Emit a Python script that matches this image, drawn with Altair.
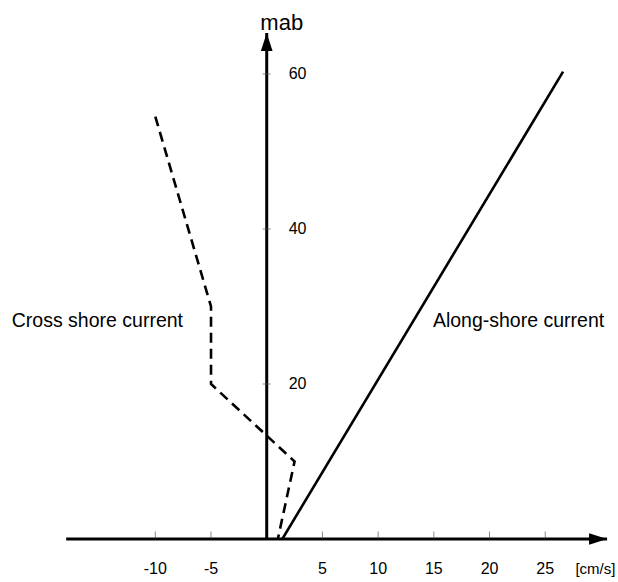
import altair as alt
import pandas as pd

# ---- data ----
cross_u = [-10, -5, -5, 2.5, 1]
cross_z = [54.5, 30, 20, 10, 0]
along_u = [1.4, 26.6]
along_z = [0, 60.3]
x_ticks = [-10, -5, 5, 10, 15, 20, 25]
y_ticks = [20, 40, 60]
x_unit = "[cm/s]"
y_unit = "mab"
curve_labels = ["Cross shore current", "Along-shore current"]
curve_label_u = [-15.2, 22.6]
curve_label_z = [28.1, 28.1]
x_axis_span = [-18.0, 30.55]
y_axis_span = [0.0, 65.3]
x_domain = [-23.94, 31.53]
y_domain = [-5.55, 69.55]

FONT = "Liberation Sans"

xs = alt.Scale(domain=x_domain, nice=False, zero=False)
ys = alt.Scale(domain=y_domain, nice=False, zero=False)
X = lambda f: alt.X(f, type="quantitative", scale=xs, axis=None)
Y = lambda f: alt.Y(f, type="quantitative", scale=ys, axis=None)

cross_df = pd.DataFrame({"u": cross_u, "z": cross_z, "o": range(len(cross_u))})
along_df = pd.DataFrame({"u": along_u, "z": along_z, "o": range(len(along_u))})

cross = alt.Chart(cross_df).mark_line(color="black", strokeWidth=2.6, strokeDash=[10, 6]).encode(
    x=X("u"), y=Y("z"), order="o:O")
along = alt.Chart(along_df).mark_line(color="black", strokeWidth=2.6).encode(
    x=X("u"), y=Y("z"), order="o:O")

xaxis_df = pd.DataFrame({"a": [x_axis_span[0]], "b": [x_axis_span[1]], "z": [0]})
xaxis = alt.Chart(xaxis_df).mark_rule(color="black", strokeWidth=3).encode(
    x=X("a"), x2="b", y=Y("z"))
yaxis_df = pd.DataFrame({"a": [y_axis_span[0]], "b": [y_axis_span[1]], "u": [0]})
yaxis = alt.Chart(yaxis_df).mark_rule(color="black", strokeWidth=3).encode(
    y=Y("a"), y2="b", x=X("u"))

xarrow = alt.Chart(pd.DataFrame({"u": [x_axis_span[1]], "z": [0]})).mark_point(
    shape="M0,0L-2,-0.65L-2,0.65Z", filled=True, color="black", opacity=1, size=324, strokeWidth=0
).encode(x=X("u"), y=Y("z"))
yarrow = alt.Chart(pd.DataFrame({"u": [0], "z": [y_axis_span[1]]})).mark_point(
    shape="M0,0L-0.65,2L0.65,2Z", filled=True, color="black", opacity=1, size=324, strokeWidth=0
).encode(x=X("u"), y=Y("z"))

xt_df = pd.DataFrame({"u": x_ticks, "z": [0] * len(x_ticks), "t": [str(v) for v in x_ticks]})
xtick = alt.Chart(xt_df).mark_tick(orient="vertical", size=7, yOffset=-4, thickness=1, color="#555").encode(
    x=X("u"), y=Y("z"))
xlab = alt.Chart(xt_df).mark_text(font=FONT, fontSize=16, dy=30, align="center", baseline="middle", color="black").encode(
    x=X("u"), y=Y("z"), text="t:N")

yt_df = pd.DataFrame({"z": y_ticks, "u": [0] * len(y_ticks), "t": [str(v) for v in y_ticks]})
ytick = alt.Chart(yt_df).mark_tick(orient="horizontal", size=8, thickness=1, color="#555").encode(
    x=X("u"), y=Y("z"))
ylab = alt.Chart(yt_df).mark_text(font=FONT, fontSize=16, dx=22, align="left", baseline="middle", color="black").encode(
    x=X("u"), y=Y("z"), text="t:N")

xunit = alt.Chart(pd.DataFrame({"u": [29.5], "z": [0], "t": [x_unit]})).mark_text(
    font=FONT, fontSize=15, dy=30, align="center", baseline="middle", color="black").encode(
    x=X("u"), y=Y("z"), text="t:N")
yunit = alt.Chart(pd.DataFrame({"u": [0], "z": [y_axis_span[1]], "t": [y_unit]})).mark_text(
    font=FONT, fontSize=22, dx=15, dy=-3, align="center", baseline="alphabetic", color="black").encode(
    x=X("u"), y=Y("z"), text="t:N")

lab_df = pd.DataFrame({"u": curve_label_u, "z": curve_label_z, "t": curve_labels})
labs = alt.Chart(lab_df).mark_text(font=FONT, fontSize=19.5, align="center", baseline="middle", color="black").encode(
    x=X("u"), y=Y("z"), text="t:N")

chart = alt.layer(cross, along, xaxis, yaxis, xarrow, yarrow, xtick, ytick, xlab, ylab, xunit, yunit, labs).properties(
    width=618, height=582, autosize=alt.AutoSizeParams(type="none"), padding=0, background="white"
).configure_view(stroke=None)

chart.save("out.html", embed_options={"renderer": "svg", "actions": False})
